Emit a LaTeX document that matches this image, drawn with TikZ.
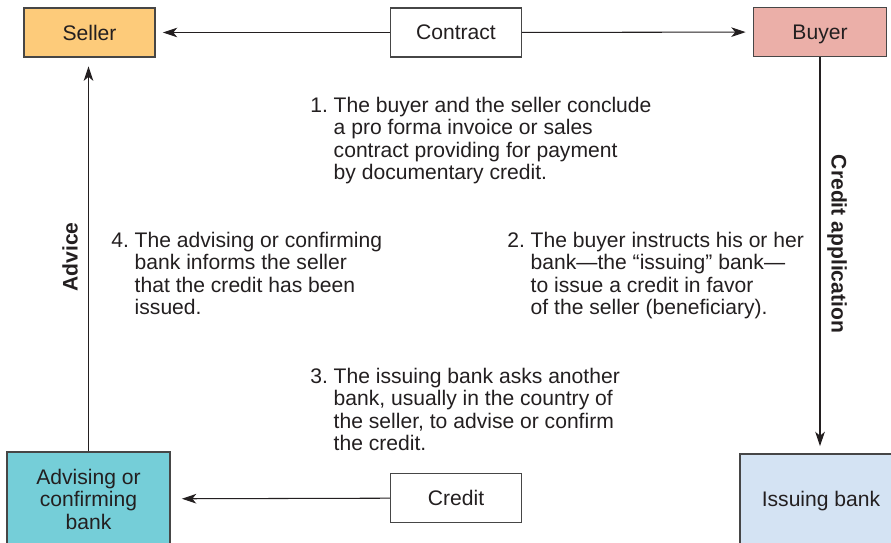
\documentclass[tikz,border=0pt]{standalone}
\usepackage{fontspec}
\setmainfont{Liberation Sans}
\usepackage{xcolor}
\definecolor{lcorange}{RGB}{253,203,122}
\definecolor{lcpink}{RGB}{235,175,168}
\definecolor{lcteal}{RGB}{117,206,216}
\definecolor{lcblue}{RGB}{212,227,243}
\definecolor{lcink}{RGB}{35,31,32}
\definecolor{lcedge}{RGB}{70,70,70}
\usetikzlibrary{arrows.meta,positioning}

\begin{document}
\begin{tikzpicture}[x=0.025cm,y=-0.025cm,
    every node/.style={font=\fontsize{15}{16}\selectfont,text=lcink},
    party/.style={draw=lcedge,line width=0.9pt,minimum width=3.275cm,minimum height=1.225cm,inner sep=0pt},
    flow/.style={draw=lcink,line width=0.75pt,-{Stealth[length=0.36cm,width=0.24cm,inset=0.1cm]},shorten >=0.18cm},
    note/.style={anchor=base west,inner sep=0pt,align=left},
    side/.style={font=\fontsize{15}{16}\selectfont\bfseries}]

  \useasboundingbox (0,0) rectangle (891,542);
  \clip (0,0) rectangle (891,542);

  %% Parties, banks and documents
  \node[party,fill=lcorange] (seller) at (89.5,32.5) {Seller};
  \node[party,fill=white] (contract) at (456,32.5) {Contract};
  \node[party,fill=lcpink,minimum width=3.325cm,text depth=0pt] (buyer) at (820,32) {Buyer};
  \node[party,fill=lcblue,minimum width=4.05cm,minimum height=2.35cm] (issuing) at (821,501) {Issuing bank};
  \node[party,fill=white] (credit) at (456,498) {Credit};
  \node[party,fill=lcteal,minimum width=4.075cm,minimum height=2.35cm,align=center] (advising) at (88.5,499) {Advising or\\confirming\\bank};

  %% Flows between them
  \draw[flow] (contract) -- (seller);
  \draw[flow] (contract) -- (buyer);
  \draw[flow] (buyer.south) -- (buyer.south |- issuing.north);
  \draw[flow,shorten >=0.28cm] (credit) -- (advising);
  \draw[flow,shorten >=0.22cm] (advising.north) -- (advising.north |- seller.south);

  %% Side labels
  \node[side,rotate=90] (advice) at (70,257) {Advice};
  \node[side,rotate=-90] (application) at (837,244) {Credit application};

  %% Steps
  \node[note] (step1) at (310,112) {\begin{tabular}[t]{@{}l@{\ }l@{}}1. & The buyer and the seller conclude\\ & a pro forma invoice or sales\\ & contract providing for payment\\ & by documentary credit.\end{tabular}};
  \node[note] (step2) at (507,247) {\begin{tabular}[t]{@{}l@{\ }l@{}}2. & The buyer instructs his or her\\ & bank—the “issuing” bank—\\ & to issue a credit in favor\\ & of the seller (beneficiary).\end{tabular}};
  \node[note] (step3) at (310,383) {\begin{tabular}[t]{@{}l@{\ }l@{}}3. & The issuing bank asks another\\ & bank, usually in the country of\\ & the seller, to advise or confirm\\ & the credit.\end{tabular}};
  \node[note] (step4) at (111,247) {\begin{tabular}[t]{@{}l@{\ }l@{}}4. & The advising or confirming\\ & bank informs the seller\\ & that the credit has been\\ & issued.\end{tabular}};
\end{tikzpicture}
\end{document}
